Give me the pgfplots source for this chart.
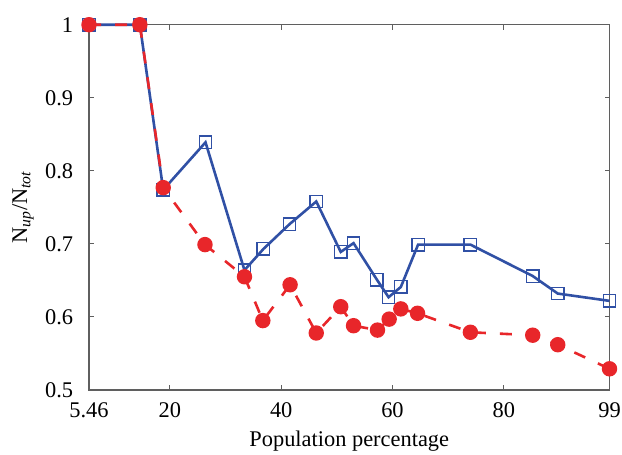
\documentclass[border=0pt]{standalone}
\usepackage{fontspec}
\setmainfont{Liberation Serif}
\usepackage{pgfplots}
\pgfplotsset{compat=1.18}

\definecolor{lineblue}{RGB}{48,80,165}
\definecolor{dotred}{RGB}{232,38,42}
\definecolor{framegray}{RGB}{95,95,95}

\begin{document}
\fontsize{11.2}{13.5}\selectfont
\begin{tikzpicture}
  \begin{axis}[
      scale only axis,
      width=260.25pt, height=182.65pt,
      xmin=5.46, xmax=99, ymin=0.5, ymax=1,
      xtick={5.46,20,40,60,80,99},
      xticklabels={5.46,20,40,60,80,99},
      ytick={0.5,0.6,0.7,0.8,0.9,1},
      yticklabels={0.5,0.6,0.7,0.8,0.9,1},
      tick align=inside,
      major tick length=2.5pt,
      every tick/.style={framegray, line width=0.5pt},
      axis line style={framegray, line width=0.6pt},
      xticklabel style={yshift=-2.5pt},
      yticklabel style={xshift=-4pt},
      xlabel={Population percentage},
      ylabel={N\textsubscript{\itshape up}/N\textsubscript{\itshape tot}},
      xlabel style={at={(axis description cs:0.5,0)}, anchor=base, yshift=-28.5pt},
      ylabel style={at={(axis description cs:0,0.5)}, anchor=center, yshift=33pt},
      clip=false,
    ]
    % blue: solid line, open squares
    \addplot[lineblue, line width=1.3pt,
      mark=square, mark size=3.1pt,
      mark options={solid, line width=0.7pt}] coordinates {
      (5.46,1) (14.6,1) (18.8,0.774) (26.4,0.839) (33.4,0.664)
      (36.8,0.693) (41.5,0.727) (46.3,0.758) (50.7,0.689) (53.0,0.701)
      (57.2,0.651) (59.3,0.627) (61.5,0.641) (64.6,0.699) (74.0,0.699)
      (85.2,0.656) (89.7,0.632) (99,0.622)
    };
    % red: dashed line, filled circles
    \addplot[dotred, line width=1.3pt, dash pattern=on 6pt off 7pt,
      mark=*, mark size=3.2pt,
      mark options={solid, fill=dotred, draw=dotred}] coordinates {
      (5.46,1) (14.6,1) (18.8,0.777) (26.3,0.699) (33.4,0.655)
      (36.7,0.595) (41.6,0.644) (46.3,0.578) (50.7,0.614) (53.0,0.588)
      (57.3,0.582) (59.4,0.597) (61.5,0.611) (64.5,0.605) (74.0,0.579)
      (85.2,0.575) (89.7,0.562) (99,0.529)
    };
  \end{axis}
  \pgfresetboundingbox
  \path (current axis.south west) ++(-44.5pt,-32.5pt) coordinate (bbA);
  \path (current axis.north east) ++(6.25pt,12.35pt) coordinate (bbB);
  \useasboundingbox (bbA) rectangle (bbB);
\end{tikzpicture}
\end{document}
